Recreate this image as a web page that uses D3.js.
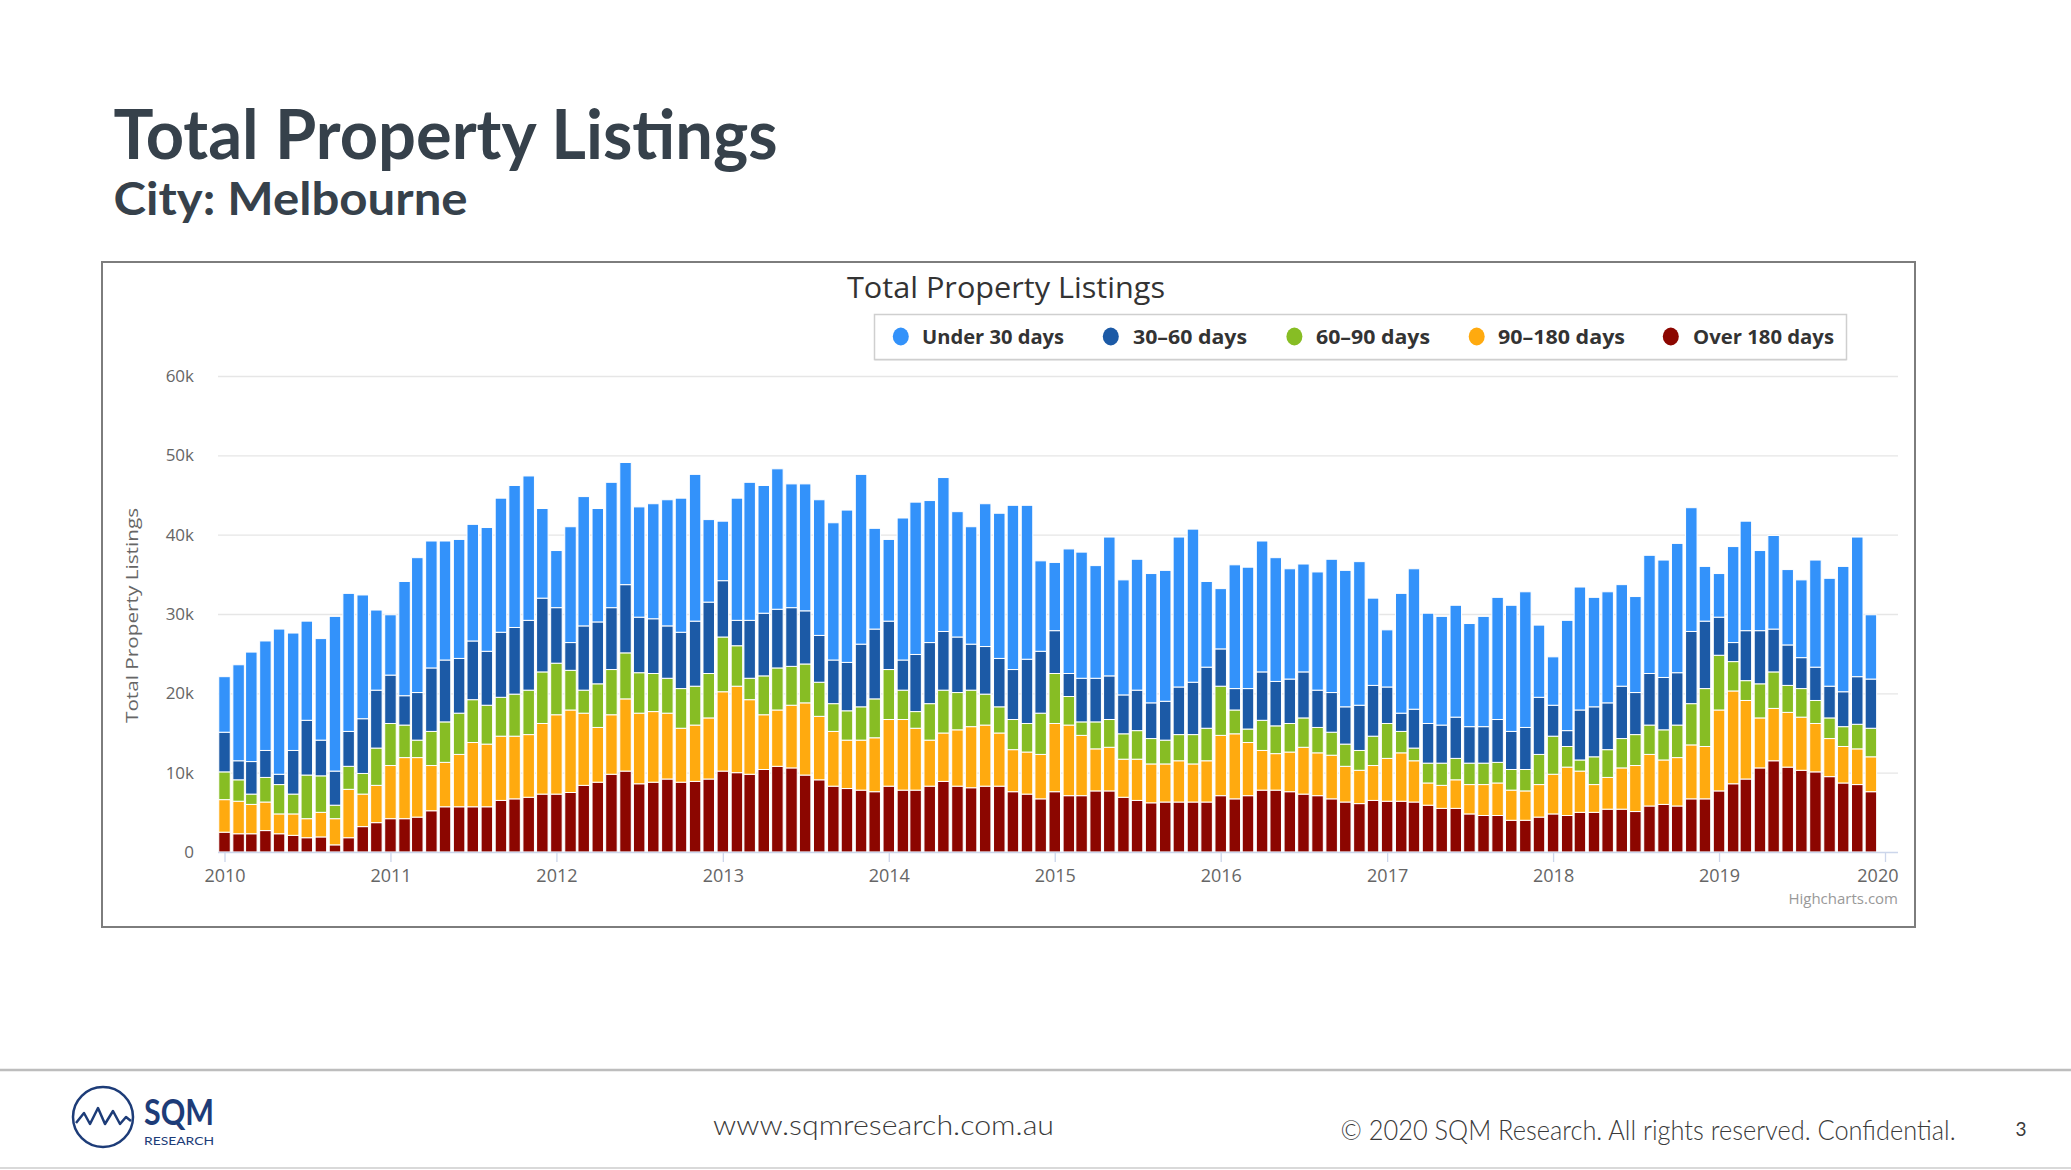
<!DOCTYPE html>
<html><head><meta charset="utf-8">
<script src="https://cdn.jsdelivr.net/npm/d3@7"></script>
<style>
html,body{margin:0;padding:0;background:#fff;}
svg{display:block;}
</style></head><body>
<svg id="c" width="2071" height="1170"></svg>
<script>
// ---------- DATA (values in thousands of listings) ----------
const seriesKeys   = ["over180", "d90to180", "d60to90", "d30to60", "under30"];
const seriesNames  = {under30: "Under 30 days", d30to60: "30–60 days", d60to90: "60–90 days", d90to180: "90–180 days", over180: "Over 180 days"};
const legendOrder  = ["under30", "d30to60", "d60to90", "d90to180", "over180"];
const seriesColors = {under30: "#3392fa", d30to60: "#1c5aa6", d60to90: "#87bd24", d90to180: "#ffaa0f", over180: "#8c0600"};
const firstMonth   = "2010-01";
const yearLabels   = ["2010","2011","2012","2013","2014","2015","2016","2017","2018","2019","2020"];
const yTickValues  = [0, 10, 20, 30, 40, 50, 60];

const over180 = [
 2.5,2.3,2.3,2.7,2.3,2.1,1.8,1.9,0.9,1.8, 3.2,3.7,4.2,4.2,4.4,5.2,5.7,5.7,5.7,5.7,
 6.5,6.7,6.9,7.3,7.3,7.5,8.4,8.8,9.8,10.2, 8.6,8.8,9.2,8.8,8.9,9.2,10.2,10.0,9.8,10.4,
 10.8,10.6,9.7,9.1,8.3,8.0,7.8,7.6,8.3,7.8, 7.8,8.3,8.9,8.3,8.1,8.3,8.3,7.6,7.3,6.7,
 7.6,7.1,7.1,7.7,7.7,6.9,6.5,6.2,6.3,6.3, 6.3,6.3,7.1,6.7,7.1,7.8,7.8,7.6,7.3,7.1,
 6.7,6.3,6.1,6.5,6.4,6.4,6.3,5.9,5.5,5.5, 4.8,4.6,4.6,4.0,4.0,4.4,4.8,4.6,5.0,5.0,
 5.4,5.4,5.1,5.8,6.0,5.8,6.7,6.7,7.7,8.6, 9.2,10.6,11.5,10.7,10.3,10.1,9.5,8.7,8.5,7.6];
const d90to180 = [
 4.1,4.1,3.7,3.6,2.5,2.7,2.4,3.1,3.3,6.1, 4.1,4.7,6.7,7.7,7.5,5.7,5.6,6.6,8.1,7.9,
 8.1,7.9,7.9,8.9,10.0,10.4,9.1,6.9,7.5,9.1, 8.9,8.9,8.3,6.8,7.1,7.7,10.0,10.9,9.4,6.9,
 7.1,7.9,9.1,8.0,6.9,6.1,6.3,6.8,8.4,8.9, 7.8,5.8,6.1,7.1,7.7,7.7,6.7,5.3,5.3,5.6,
 8.6,8.9,7.6,5.3,5.5,4.8,5.2,4.9,4.8,5.2, 4.8,5.2,7.6,8.2,6.7,5.0,4.6,5.0,5.9,5.4,
 5.5,4.5,4.2,4.4,5.4,6.1,5.2,2.8,2.9,3.6, 3.7,3.9,4.1,3.8,3.7,4.1,5.0,6.1,5.2,3.5,
 4.0,5.2,5.8,6.5,5.6,6.1,6.8,6.6,10.2,11.7, 9.9,6.3,6.6,6.9,6.7,6.1,4.8,4.6,4.5,4.4];
const d60to90 = [
 3.5,2.7,1.3,3.1,3.7,2.5,5.5,4.6,1.7,2.9, 2.6,4.7,5.3,4.1,2.2,4.3,5.1,5.2,5.4,4.9,
 4.9,5.3,5.6,6.5,6.5,5.0,2.9,5.5,5.7,5.8, 5.1,4.8,4.4,5.0,4.9,5.6,6.9,5.1,2.7,4.9,
 5.3,4.9,4.9,4.3,3.5,3.7,4.2,4.9,6.3,3.7, 2.1,4.6,5.4,4.7,4.6,3.9,3.3,3.8,3.6,5.2,
 6.3,3.6,1.7,3.4,3.5,3.2,3.6,3.2,3.0,3.3, 3.7,4.1,6.2,3.0,1.7,3.8,3.5,3.6,3.7,3.2,
 2.9,2.8,2.5,3.7,4.4,2.7,1.6,2.5,2.8,2.7, 2.7,2.7,2.6,2.6,2.7,3.8,4.8,2.6,1.4,3.5,
 3.5,3.7,3.9,3.7,3.8,4.1,5.2,7.3,6.9,3.7, 2.5,4.3,4.6,3.4,3.6,2.9,2.6,2.5,3.1,3.6];
const d30to60 = [
 5.0,2.4,4.1,3.4,1.3,5.5,6.9,4.5,4.3,4.4, 6.9,7.3,6.1,3.7,6.0,8.0,7.8,6.9,7.4,6.8,
 8.2,8.4,8.8,9.3,7.0,3.5,8.1,7.8,7.8,8.6, 7.0,6.9,6.6,7.1,8.2,9.0,7.1,3.2,7.3,7.9,
 7.4,7.4,6.7,5.9,5.5,6.1,7.9,8.8,6.1,3.8, 7.2,7.7,7.4,7.0,5.8,6.0,6.1,6.3,8.1,7.8,
 5.4,2.9,5.5,5.5,5.5,4.9,5.1,4.5,4.9,6.0, 6.6,7.7,4.7,2.7,5.1,6.1,5.6,5.6,5.8,4.7,
 5.0,4.7,5.7,6.4,4.6,2.3,4.9,5.0,4.8,5.2, 4.6,4.6,5.4,4.8,5.3,7.2,3.9,2.0,6.3,6.3,
 5.9,6.6,5.3,6.5,6.6,6.6,9.1,8.5,4.8,2.4, 6.3,6.7,5.4,5.1,3.9,4.2,4.0,4.4,6.0,6.2];
const under30 = [
 7.0,12.1,13.8,13.8,18.3,14.8,12.5,12.8,19.5,17.4, 15.6,10.1,7.6,14.4,17.0,16.0,15.0,15.0,14.7,15.6,
 16.9,17.9,18.2,11.3,7.2,14.6,16.3,14.3,15.8,15.4, 13.9,14.5,15.9,16.9,18.5,10.4,7.5,15.4,17.4,16.1,
 17.7,15.6,16.0,17.1,17.3,19.2,21.4,12.7,10.3,17.9, 19.2,17.9,19.4,15.8,14.8,18.0,18.3,20.7,19.4,11.4,
 8.6,15.7,15.9,14.2,17.5,14.5,16.5,16.3,16.5,18.9, 19.3,10.8,7.6,15.6,15.3,16.5,15.6,13.9,13.6,14.9,
 16.8,17.2,18.1,11.0,7.2,15.1,17.7,13.9,13.7,14.1, 13.0,13.9,15.4,15.9,17.1,9.1,6.1,13.9,15.5,13.8,
 14.0,12.8,12.1,14.9,14.8,16.3,15.6,6.9,5.5,12.1, 13.8,10.1,11.8,9.5,9.8,13.5,13.6,15.8,17.6,8.1];

// ---------- LAYOUT ----------
const W = 2071, H = 1170;
const plot = {left: 218, right: 1898, top: 376, bottom: 852};
const barWidth = 11.5;
const legendLayout = {box: [874.5, 314.5, 972, 45], cy: 336.5, dotX: [900.8, 1110.8, 1294.4, 1476.7, 1670.8], textX: [922, 1133, 1316, 1498, 1693], textW: [142, 114, 114, 127, 141]};
const chartFont = "'Liberation Sans Narrow','Open Sans','Liberation Sans',sans-serif";
const slideFont = "Lato,'Noto Sans',sans-serif";

const svg = d3.select("#c");
svg.append("rect").attr("width", W).attr("height", H).attr("fill", "#fff");

function fitText(sel, w) { sel.attr("textLength", w).attr("lengthAdjust", "spacingAndGlyphs"); return sel; }

// Slide title
fitText(svg.append("text").attr("x", 113.6).attr("y", 158.5)
  .attr("font-family", slideFont).attr("font-weight", 700).attr("font-size", 68)
  .attr("fill", "#36414b").text("Total Property Listings"), 664);
fitText(svg.append("text").attr("x", 113.6).attr("y", 215)
  .attr("font-family", slideFont).attr("font-weight", 700).attr("font-size", 46)
  .attr("fill", "#36414b").text("City: Melbourne"), 354);

// Chart frame
svg.append("rect").attr("x", 102).attr("y", 262).attr("width", 1813).attr("height", 665)
  .attr("fill", "#fff").attr("stroke", "#7d7d7d").attr("stroke-width", 2);

// Chart title
fitText(svg.append("text").attr("x", 1006).attr("y", 298).attr("text-anchor", "middle")
  .attr("font-family", chartFont).attr("font-size", 30).attr("fill", "#333")
  .text("Total Property Listings"), 318);

// Data table and stack
const start = d3.timeParse("%Y-%m")(firstMonth);
const months = d3.timeMonth.range(start, d3.timeMonth.offset(start, over180.length));
const table = months.map((m, i) => ({date: m, over180: over180[i], d90to180: d90to180[i], d60to90: d60to90[i], d30to60: d30to60[i], under30: under30[i]}));
const stacked = d3.stack().keys(seriesKeys)(table);

const yearDates = yearLabels.map(yl => d3.timeParse("%Y")(yl));
const x = d3.scaleTime().domain([yearDates[0], yearDates[yearDates.length - 1]]).range([224.5, 1885]);
const y = d3.scaleLinear().domain([0, 60]).range([plot.bottom, plot.top]);

// Y axis with gridlines
const yAxis = svg.append("g").attr("transform", `translate(${plot.left},0)`)
  .call(d3.axisLeft(y).tickValues(yTickValues).tickSize(-(plot.right - plot.left)).tickPadding(24)
    .tickFormat(d => d === 0 ? "0" : d + "k"));
yAxis.select(".domain").remove();
yAxis.selectAll(".tick line").attr("stroke", "#e6e6e6").attr("stroke-width", 1.3)
  .filter(d => d === 0).remove();
yAxis.selectAll(".tick text").attr("font-family", chartFont).attr("font-size", 17).attr("fill", "#666");

// Y axis title
fitText(svg.append("text").attr("transform", "translate(138,615.5) rotate(-90)").attr("text-anchor", "middle")
  .attr("font-family", chartFont).attr("font-size", 17).attr("fill", "#666")
  .text("Total Property Listings"), 215);

// Bars
const layer = svg.append("g").selectAll("g").data(stacked).join("g")
  .attr("fill", d => seriesColors[d.key]);
layer.selectAll("rect").data(d => d).join("rect")
  .attr("x", d => x(d.data.date) - barWidth / 2)
  .attr("width", barWidth)
  .attr("y", d => y(d[1]))
  .attr("height", d => Math.max(0, y(d[0]) - y(d[1])))
  .attr("stroke", "#fff").attr("stroke-width", 1);

// X axis
svg.append("line").attr("x1", plot.left).attr("x2", plot.right).attr("y1", plot.bottom + 0.5).attr("y2", plot.bottom + 0.5)
  .attr("stroke", "#ccd6eb").attr("stroke-width", 1.3);
const xAxis = svg.append("g").attr("transform", `translate(0,${plot.bottom})`)
  .call(d3.axisBottom(x).tickValues(yearDates).tickSize(10).tickPadding(7).tickFormat((d, i) => yearLabels[i]));
xAxis.select(".domain").remove();
xAxis.selectAll(".tick line").attr("stroke", "#ccd6eb").attr("stroke-width", 1.3);
xAxis.selectAll(".tick text").attr("font-family", chartFont).attr("font-size", 18).attr("fill", "#666");
xAxis.selectAll(".tick text").each(function () {
  const bb = this.getBBox();
  const tx = x(d3.select(this.parentNode).datum());
  const right = tx + bb.x + bb.width;
  if (right > plot.right) d3.select(this).attr("x", plot.right - right);
});

// Legend
const lg = svg.append("g");
lg.append("rect").attr("x", legendLayout.box[0]).attr("y", legendLayout.box[1] + 1.5)
  .attr("width", legendLayout.box[2]).attr("height", legendLayout.box[3]).attr("fill", "#ececec");
lg.append("rect").attr("x", legendLayout.box[0]).attr("y", legendLayout.box[1])
  .attr("width", legendLayout.box[2]).attr("height", legendLayout.box[3])
  .attr("fill", "#fff").attr("stroke", "#cfcfcf").attr("stroke-width", 1.5);
legendOrder.forEach((k, i) => {
  lg.append("ellipse").attr("cx", legendLayout.dotX[i]).attr("cy", legendLayout.cy).attr("rx", 8).attr("ry", 9)
    .attr("fill", seriesColors[k]);
  fitText(lg.append("text").attr("x", legendLayout.textX[i]).attr("y", legendLayout.cy + 7)
    .attr("font-family", chartFont).attr("font-weight", 700).attr("font-size", 20).attr("fill", "#333")
    .text(seriesNames[k]), legendLayout.textW[i]);
});

// Credits
svg.append("text").attr("x", plot.right).attr("y", 903.5).attr("text-anchor", "end")
  .attr("font-family", chartFont).attr("font-size", 15).attr("fill", "#999").text("Highcharts.com");

// Footer
svg.append("line").attr("x1", 0).attr("x2", W).attr("y1", 1070).attr("y2", 1070).attr("stroke", "#bdbdbd").attr("stroke-width", 2.5);
svg.append("line").attr("x1", 0).attr("x2", W).attr("y1", 1168).attr("y2", 1168).attr("stroke", "#d9d9d9").attr("stroke-width", 2);
const navy = "#1d3c78";
svg.append("circle").attr("cx", 103).attr("cy", 1117).attr("r", 30).attr("fill", "none").attr("stroke", navy).attr("stroke-width", 2.5);
svg.append("path").attr("d", "M76,1123 L84,1113 L90,1124 L98,1108 L105,1124 L113,1111 L120,1124 L126,1117 L131,1121")
  .attr("fill", "none").attr("stroke", navy).attr("stroke-width", 2.5).attr("stroke-linejoin", "round");
fitText(svg.append("text").attr("x", 144).attr("y", 1125).attr("font-family", "Lato,sans-serif").attr("font-weight", 700)
  .attr("font-size", 36).attr("fill", navy).text("SQM"), 70);
fitText(svg.append("text").attr("x", 144).attr("y", 1144.5).attr("font-family", "Lato,sans-serif")
  .attr("font-size", 11).attr("fill", navy).text("RESEARCH"), 70);
fitText(svg.append("text").attr("x", 713).attr("y", 1134.5).attr("font-family", slideFont).attr("font-weight", 300)
  .attr("font-size", 28).attr("fill", "#3a3a3a").text("www.sqmresearch.com.au"), 341);
fitText(svg.append("text").attr("x", 1340.6).attr("y", 1140).attr("font-family", slideFont).attr("font-weight", 300)
  .attr("font-size", 27).attr("fill", "#3a3a3a").text("© 2020 SQM Research. All rights reserved. Confidential."), 615);
svg.append("text").attr("x", 2021).attr("y", 1136).attr("text-anchor", "middle").attr("font-family", slideFont)
  .attr("font-size", 19).attr("fill", "#3a3a3a").text("3");
</script>
</body></html>
